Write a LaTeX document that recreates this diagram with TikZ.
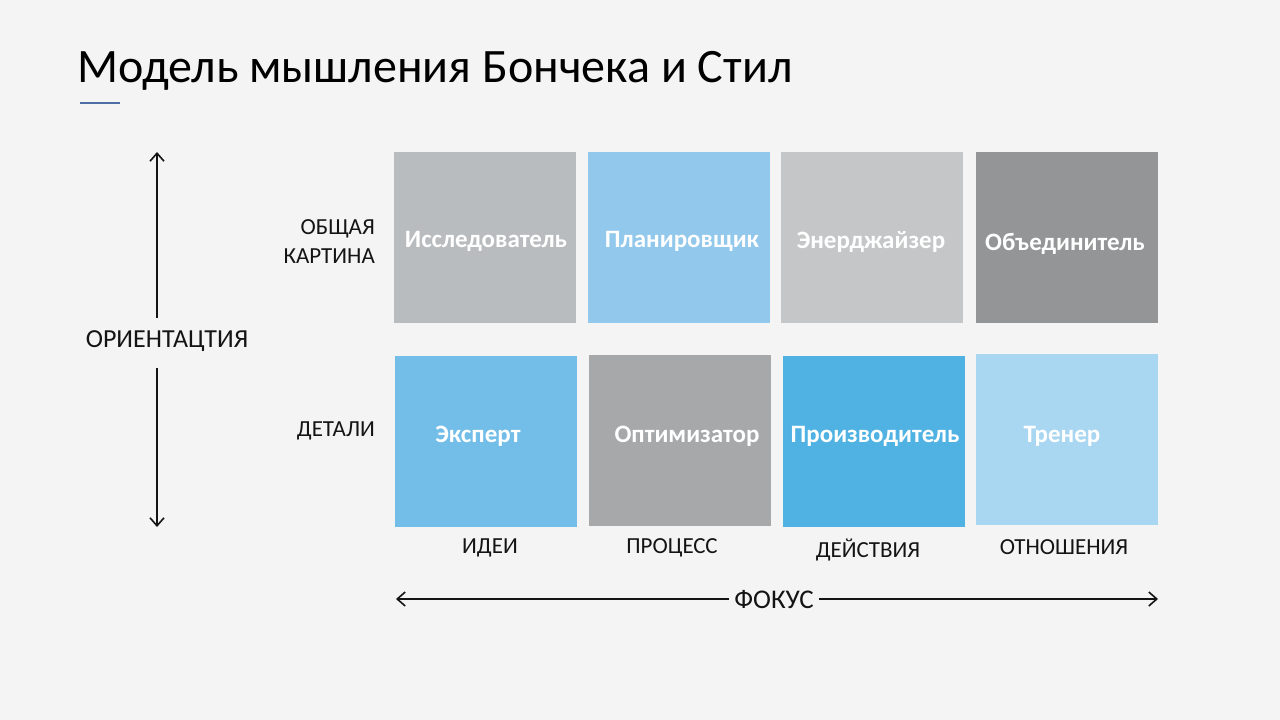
\documentclass[tikz,border=0pt]{standalone}
\usepackage{fontspec}
\setmainfont{Carlito}
\usetikzlibrary{arrows.meta}
\definecolor{bg}{HTML}{F4F4F4}
\definecolor{ink}{HTML}{141414}
\definecolor{accent}{HTML}{4F6EA6}
\definecolor{ca}{HTML}{B9BCBE}
\definecolor{cb}{HTML}{92C8EC}
\definecolor{cc}{HTML}{C4C6C7}
\definecolor{cd}{HTML}{939596}
\definecolor{ce}{HTML}{72BEE8}
\definecolor{cf}{HTML}{A6A8AA}
\definecolor{cg}{HTML}{4FB2E3}
\definecolor{ch}{HTML}{A9D6F0}
\tikzset{
  box/.style={minimum width=182pt, minimum height=171pt, inner sep=0pt},
  boxtext/.style={text=white, inner sep=0pt, font=\bfseries\fontsize{25}{28}\selectfont},
  axislabel/.style={text=ink, inner sep=1pt, font=\fontsize{23}{29}\selectfont},
  axisarrow/.style={draw=ink, line width=1.6pt, -{Straight Barb[length=8pt,width=14pt,line width=1.6pt]}}
}
\begin{document}
\begin{tikzpicture}[x=1pt,y=-1pt]
\useasboundingbox[fill=bg] (0,0) rectangle (1280,720);
% title
\node[anchor=base west, inner sep=0pt, text=black, font=\fontsize{48}{56}\selectfont] (title) at (77,82) {Модель мышления Бончека и Стил};
\draw[accent, line width=2.6pt] (80,103) -- (120,103);
% boxes
\node[box, fill=ca] (b1) at (485,237.5) {};
\node[box, fill=cb] (b2) at (679,237.5) {};
\node[box, fill=cc] (b3) at (871.5,237.5) {};
\node[box, fill=cd] (b4) at (1067,237.5) {};
\node[box, fill=ce] (b5) at (486,441.5) {};
\node[box, fill=cf] (b6) at (680,440) {};
\node[box, fill=cg] (b7) at (873.5,441.5) {};
\node[box, fill=ch] (b8) at (1067,439.5) {};
\node[boxtext] (t1) at (486,241) {Исследователь};
\node[boxtext] (t2) at (682,241) {Планировщик};
\node[boxtext] (t3) at (871,242) {Энерджайзер};
\node[boxtext] (t4) at (1065,244) {Объединитель};
\node[boxtext] (t5) at (478,436) {Эксперт};
\node[boxtext] (t6) at (687,436) {Оптимизатор};
\node[boxtext] (t7) at (875,436) {Производитель};
\node[boxtext] (t8) at (1062,436) {Тренер};
% row labels
\node[axislabel, anchor=east, align=right] (big) at (376,242) {ОБЩАЯ\\КАРТИНА};
\node[axislabel, anchor=east] (det) at (376,431) {ДЕТАЛИ};
% column labels
\node[axislabel] (c1) at (490,548) {ИДЕИ};
\node[axislabel] (c2) at (672,548) {ПРОЦЕСС};
\node[axislabel] (c3) at (868,550) {ДЕЙСТВИЯ};
\node[axislabel] (c4) at (1064,547) {ОТНОШЕНИЯ};
% vertical axis
\node[axislabel, font=\fontsize{26}{30}\selectfont] (orient) at (167,341) {ОРИЕНТАЦТИЯ};
\coordinate (vtop) at (157,152);
\coordinate (vtopst) at (157,318);
\coordinate (vbot) at (157,527);
\coordinate (vbotst) at (157,368);
\draw[axisarrow] (vtopst) -- (vtop);
\draw[axisarrow] (vbotst) -- (vbot);
% horizontal axis
\node[axislabel, font=\fontsize{27}{30}\selectfont, inner sep=5pt] (focus) at (774,600) {ФОКУС};
\coordinate (hleft) at (396,599);
\coordinate (hright) at (1158,599);
\draw[axisarrow] (focus.west |- hleft) -- (hleft);
\draw[axisarrow] (focus.east |- hright) -- (hright);
\end{tikzpicture}
\end{document}
